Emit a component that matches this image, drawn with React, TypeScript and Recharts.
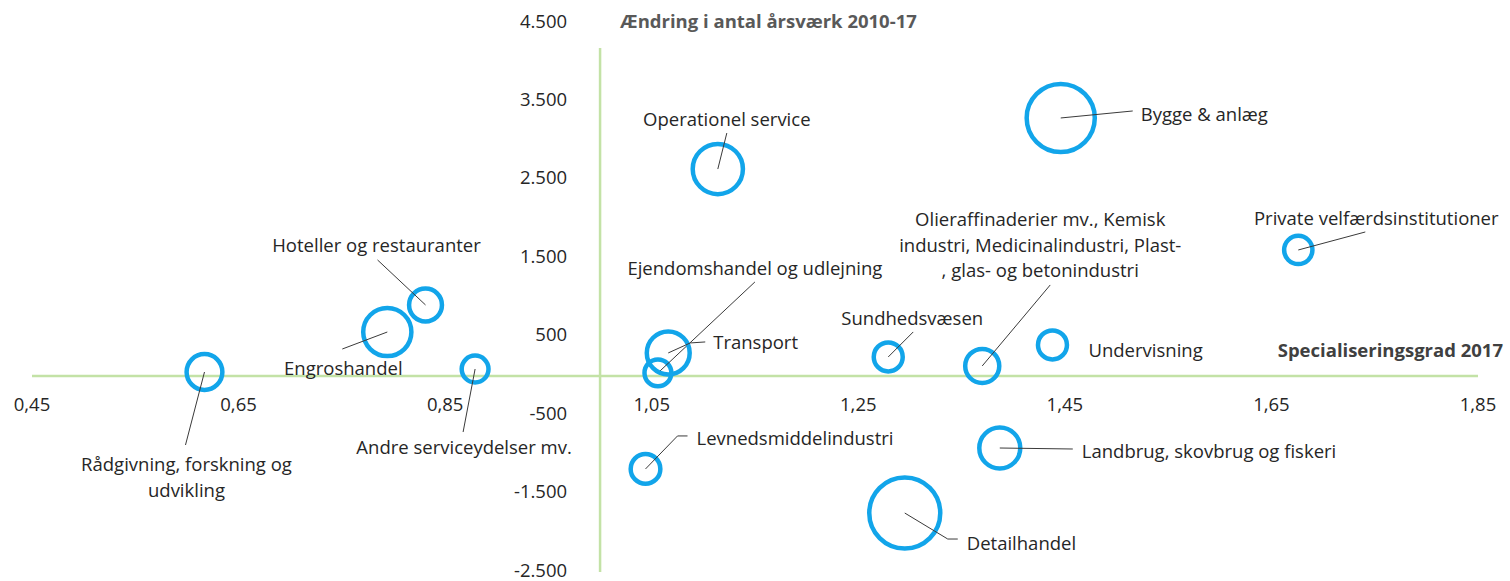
import React from 'react';
import { ScatterChart, Scatter, XAxis, YAxis, ZAxis, ReferenceLine, Customized } from 'recharts';

// ---------- data ----------
const brancher = [
  'Rådgivning, forskning og udvikling',
  'Engroshandel',
  'Hoteller og restauranter',
  'Andre serviceydelser mv.',
  'Operationel service',
  'Ejendomshandel og udlejning',
  'Transport',
  'Sundhedsvæsen',
  'Olieraffinaderier mv., Kemisk industri, Medicinalindustri, Plast-, glas- og betonindustri',
  'Undervisning',
  'Bygge & anlæg',
  'Private velfærdsinstitutioner',
  'Levnedsmiddelindustri',
  'Landbrug, skovbrug og fiskeri',
  'Detailhandel',
];
const specialiseringsgrad = [0.617, 0.794, 0.831, 0.879, 1.114, 1.056, 1.066, 1.279, 1.37, 1.438, 1.446, 1.676, 1.044, 1.387, 1.295];
const aendringAarsvaerk = [50, 560, 905, 88, 2638, 38, 293, 242, 127, 395, 3289, 1606, -1186, -919, -1748];
const beskaeftigelse = [32, 58, 27, 18, 63, 18, 46, 21, 29, 21, 116, 20, 22, 42, 126];

const xTicks = [0.45, 0.65, 0.85, 1.05, 1.25, 1.45, 1.65, 1.85];
const yTicks = [-2500, -1500, -500, 500, 1500, 2500, 3500, 4500];
const xDomain = [0.45, 1.85];
const yDomain = [-2500, 4500];

const xTitle = 'Specialiseringsgrad 2017';
const yTitle = 'Ændring i antal årsværk 2010-17';

// ---------- label layout (offsets relative to bubble centre, px) ----------
type LabelCfg = { lines: string[]; tx: number; ty: number; anchor: 'start' | 'middle' | 'end'; gap?: number; leader?: number[][] };
const labelLayout: LabelCfg[] = [
  { lines: ['Rådgivning, forskning og', 'udvikling'], tx: -18, ty: 91, anchor: 'middle', gap: 26, leader: [[0, 0], [-19, 73]] },
  { lines: ['Engroshandel'], tx: -44, ty: 35, anchor: 'middle', leader: [[0, 0], [-45, 17]] },
  { lines: ['Hoteller og restauranter'], tx: -49, ty: -60, anchor: 'middle', leader: [[0, 0], [-48, -45]] },
  { lines: ['Andre serviceydelser mv.'], tx: -11, ty: 77, anchor: 'middle', leader: [[0, 0], [-12, 63]] },
  { lines: ['Operationel service'], tx: 9, ty: -51, anchor: 'middle', leader: [[0, 0], [9, -36]] },
  { lines: ['Ejendomshandel og udlejning'], tx: 97, ty: -105, anchor: 'middle', leader: [[0, 0], [97, -91]] },
  { lines: ['Transport'], tx: 45, ty: -11, anchor: 'start', leader: [[0, 0], [22, -10], [37, -11]] },
  { lines: ['Sundhedsvæsen'], tx: 24, ty: -39, anchor: 'middle', leader: [[0, 0], [25, -25]] },
  { lines: ['Olieraffinaderier mv., Kemisk', 'industri, Medicinalindustri, Plast-', ', glas- og betonindustri'], tx: 58, ty: -147, anchor: 'middle', gap: 25.5, leader: [[0, 0], [68, -81]] },
  { lines: ['Undervisning'], tx: 36, ty: 5, anchor: 'start' },
  { lines: ['Bygge & anlæg'], tx: 80, ty: -4, anchor: 'start', leader: [[0, 0], [72, -7]] },
  { lines: ['Private velfærdsinstitutioner'], tx: 78, ty: -32, anchor: 'middle', leader: [[0, 0], [67, -18]] },
  { lines: ['Levnedsmiddelindustri'], tx: 51, ty: -31, anchor: 'start', leader: [[0, 0], [32, -33], [42, -33]] },
  { lines: ['Landbrug, skovbrug og fiskeri'], tx: 82, ty: 2, anchor: 'start', leader: [[0, 0], [73, 1]] },
  { lines: ['Detailhandel'], tx: 62, ty: 29, anchor: 'start', leader: [[0, 0], [43, 26], [53, 26]] },
];

const data = brancher.map((name, i) => ({
  name,
  x: specialiseringsgrad[i],
  y: aendringAarsvaerk[i],
  z: beskaeftigelse[i],
  idx: i,
}));

// ---------- layout / style ----------
const W = 1510;
const H = 581;
const AXIS_PAD = 1;
const MARGIN = { top: 23, right: 32, bottom: 9 - AXIS_PAD, left: 32 - AXIS_PAD };
const PLOT_LEFT = 32;
const PLOT_TOP = 23;
const PLOT_W = W - 32 - 32;
const PLOT_H = H - 23 - 9;
const ZERO_Y = PLOT_TOP + ((yDomain[1] - 0) / (yDomain[1] - yDomain[0])) * PLOT_H;
const ONE_X = PLOT_LEFT + ((1 - xDomain[0]) / (xDomain[1] - xDomain[0])) * PLOT_W;

const FONT = '"Open Sans", "DejaVu Sans", sans-serif';
const FS = 18.5;
const TEXT = '#262626';
const BLUE = '#12A5EA';
const GREEN = '#C3E2A6';
const MAX_R = 35.5;

const fmtY = (v: number) => {
  const s = Math.abs(v).toString().replace(/\B(?=(\d{3})+(?!\d))/g, '.');
  return (v < 0 ? '-' : '') + s;
};
const fmtX = (v: number) => v.toFixed(2).replace('.', ',');

const XTick = (props: any) => {
  const { x, payload } = props;
  return (
    <text x={x} y={ZERO_Y + 28} textAnchor="middle" dominantBaseline="central" fontFamily={FONT} fontSize={FS} fill={TEXT}>
      {fmtX(payload.value)}
    </text>
  );
};

const YTick = (props: any) => {
  const { y, payload } = props;
  return (
    <text x={ONE_X - 33} y={y - 3} textAnchor="end" dominantBaseline="central" fontFamily={FONT} fontSize={FS} fill={TEXT}>
      {fmtY(payload.value)}
    </text>
  );
};

const Bubble = (props: any) => {
  const { cx, cy, payload } = props;
  const size = props.size ?? (props.width ? Math.PI * (props.width / 2) ** 2 : 64);
  const r = Math.sqrt(size / Math.PI);
  const cfg = labelLayout[payload.idx];
  return (
    <g>
      <circle cx={cx} cy={cy} r={r} fill="none" stroke={BLUE} strokeWidth={4.5} />
      {cfg && cfg.leader && (
        <polyline
          points={cfg.leader.map(([dx, dy]) => `${cx + dx},${cy + dy}`).join(' ')}
          fill="none"
          stroke="#3a3a3a"
          strokeWidth={1}
        />
      )}
      {cfg &&
        cfg.lines.map((line, k) => (
          <text
            key={k}
            x={cx + cfg.tx}
            y={cy + cfg.ty + k * (cfg.gap ?? 26)}
            textAnchor={cfg.anchor}
            dominantBaseline="central"
            fontFamily={FONT}
            fontSize={FS}
            fill={TEXT}
          >
            {line}
          </text>
        ))}
    </g>
  );
};

const AxisTitles = () => (
  <g>
    <text x={ONE_X + 20} y={20} textAnchor="start" dominantBaseline="central" fontFamily={FONT} fontSize={FS} fontWeight={700} fill="#595959">
      {yTitle}
    </text>
    <text x={W - 7} y={ZERO_Y - 26} textAnchor="end" dominantBaseline="central" fontFamily={FONT} fontSize={FS} fontWeight={700} fill="#404040">
      {xTitle}
    </text>
  </g>
);

export default function App() {
  return (
    <div style={{ position: 'absolute', left: 0, top: 0, width: W, height: H, background: '#fff' }}>
      <ScatterChart width={W} height={H} margin={MARGIN}>
        <XAxis
          type="number"
          dataKey="x"
          domain={xDomain}
          ticks={xTicks}
          interval={0}
          axisLine={false}
          tickLine={false}
          height={AXIS_PAD}
          tick={XTick}
        />
        <YAxis
          type="number"
          dataKey="y"
          domain={yDomain}
          ticks={yTicks}
          interval={0}
          axisLine={false}
          tickLine={false}
          width={AXIS_PAD}
          tick={YTick}
        />
        <ZAxis type="number" dataKey="z" domain={[0, 126]} range={[0, Math.PI * MAX_R * MAX_R]} />
        <ReferenceLine y={0} stroke={GREEN} strokeWidth={2.5} />
        <ReferenceLine
          segment={[
            { x: 1, y: yDomain[0] },
            { x: 1, y: 4180 },
          ]}
          stroke={GREEN}
          strokeWidth={2.5}
        />
        <Scatter data={data} shape={<Bubble />} isAnimationActive={false} />
        <Customized component={AxisTitles} />
      </ScatterChart>
    </div>
  );
}
